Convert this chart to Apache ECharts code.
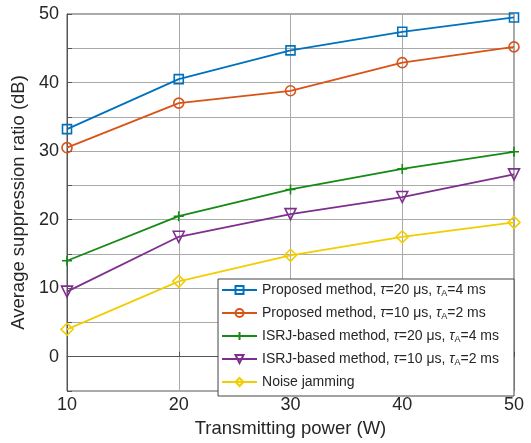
<!DOCTYPE html>
<html>
<head>
<meta charset="utf-8">
<script src="https://cdn.jsdelivr.net/npm/echarts@6/dist/echarts.min.js"></script>
<style>
  html, body { margin: 0; padding: 0; background: #fff; }
  #chart { width: 531px; height: 443px; }
</style>
</head>
<body>
<div id="chart"></div>
<script>
  // transmitting power (W)
  const powers = [10, 20, 30, 40, 50];
  // average suppression ratio (dB)
  const proposed20 = [33.2, 40.5, 44.7, 47.4, 49.5];
  const proposed10 = [30.5, 37.0, 38.8, 42.9, 45.2];
  const isrj20 = [14.0, 20.5, 24.4, 27.4, 29.9];
  const isrj10 = [9.5, 17.5, 20.8, 23.3, 26.6];
  const noise = [4.0, 11.0, 14.8, 17.5, 19.6];

  const names = ['p20', 'p10', 'i20', 'i10', 'noise'];
  // legend text with italic tau and subscript A
  const legendText = {
    p20: '{n|Proposed method, }{i|τ}{n|=20 μs, }{i|τ}{s|A}{n|=4 ms}',
    p10: '{n|Proposed method, }{i|τ}{n|=10 μs, }{i|τ}{s|A}{n|=2 ms}',
    i20: '{n|ISRJ-based method, }{i|τ}{n|=20 μs, }{i|τ}{s|A}{n|=4 ms}',
    i10: '{n|ISRJ-based method, }{i|τ}{n|=10 μs, }{i|τ}{s|A}{n|=2 ms}',
    noise: '{n|Noise jamming}'
  };

  const font = 'Liberation Sans, Arial, sans-serif';
  const txt = '#262626';

  function line(name, values, color, symbol, size, rotate) {
    return {
      name: name,
      type: 'line',
      data: powers.map((p, i) => [p, values[i]]),
      symbol: symbol,
      symbolSize: size,
      symbolRotate: rotate || 0,
      showAllSymbol: true,
      lineStyle: { color: color, width: 1.8 },
      itemStyle: { color: 'rgba(0,0,0,0)', borderColor: color, borderWidth: 1.6 },
      emphasis: { disabled: true },
      z: 3
    };
  }

  const plus = 'path://M0,5L10,5M5,0L5,10';

  const chart = echarts.init(document.getElementById('chart'));
  chart.setOption({
    animation: false,
    textStyle: { fontFamily: font },
    grid: { left: 67, right: 17, top: 14, bottom: 47, show: true, borderColor: '#555', borderWidth: 1 },
    xAxis: {
      type: 'value', min: 10, max: 50, interval: 10,
      name: 'Transmitting power (W)', nameLocation: 'middle', nameGap: 28,
      nameTextStyle: { fontSize: 18.5, color: txt, fontFamily: font },
      axisLine: { lineStyle: { color: '#555' } },
      axisTick: { inside: true, length: 5, lineStyle: { color: '#555' } },
      axisLabel: { fontSize: 18, color: txt, margin: 5, fontFamily: font },
      splitLine: { lineStyle: { color: '#aaa', width: 1 } }
    },
    yAxis: {
      type: 'value', min: -5, max: 50, interval: 5,
      name: 'Average suppression ratio (dB)', nameLocation: 'middle', nameGap: 33,
      nameTextStyle: { fontSize: 18.5, color: txt, fontFamily: font },
      axisLine: { show: true, lineStyle: { color: '#555' } },
      axisTick: { show: true, inside: true, length: 5, lineStyle: { color: '#555' },
        interval: (i, v) => v % 10 === 0 },
      axisLabel: { fontSize: 18, color: txt, margin: 8, fontFamily: font,
        formatter: v => (v % 10 === 0 ? String(v) : '') },
      splitLine: { lineStyle: { color: '#aaa', width: 1 },
        interval: (i, v) => v % 10 === 0 }
    },
    legend: {
      data: names,
      orient: 'vertical',
      right: 17, bottom: 47,
      backgroundColor: '#fff',
      borderColor: '#444', borderWidth: 1, borderRadius: 0,
      padding: [4, 15, 7, 3],
      itemGap: 8,
      itemWidth: 35, itemHeight: 10,
      formatter: n => legendText[n],
      textStyle: {
        fontFamily: font, color: txt, fontSize: 14,
        rich: {
          n: { fontSize: 14, color: txt, fontFamily: font, lineHeight: 16 },
          i: { fontSize: 14, color: txt, fontFamily: font, fontStyle: 'italic', lineHeight: 16 },
          s: { fontSize: 9, color: txt, fontFamily: font, verticalAlign: 'bottom' }
        }
      }
    },
    series: [
      line('p20', proposed20, '#0072BD', 'rect', 9),
      line('p10', proposed10, '#D95319', 'circle', 10),
      line('i20', isrj20, '#158A15', plus, 10),
      line('i10', isrj10, '#7E2F8E', 'triangle', 11, 180),
      line('noise', noise, '#F2CD00', 'diamond', 12)
    ]
  });
</script>
</body>
</html>
